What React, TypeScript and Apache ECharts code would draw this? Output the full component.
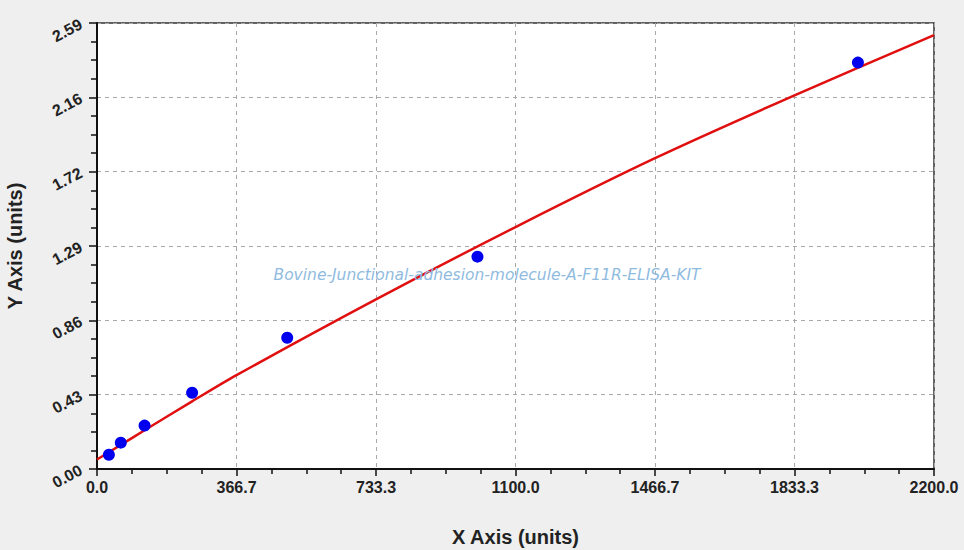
import { useEffect, useRef } from 'react'
import * as echarts from 'echarts'

// standard points (concentration, OD)
const standardX = [31.25, 62.5, 125, 250, 500, 1000, 2000]
const standardY = [0.083, 0.153, 0.252, 0.443, 0.762, 1.233, 2.36]

// fitted curve
const curveX = [0, 62.5, 125, 250, 366.7, 733.3, 1100, 1466.7, 1833.3, 2200]
const curveY = [0.055, 0.14, 0.225, 0.3925, 0.545, 0.985, 1.405, 1.805, 2.17, 2.52]

const xTicks = [0, 366.7, 733.3, 1100, 1466.7, 1833.3, 2200]
const yTicks = [0, 0.43, 0.86, 1.29, 1.72, 2.16, 2.59]

const chartTitle = 'Bovine-Junctional-adhesion-molecule-A-F11R-ELISA-KIT'

export default function App() {
  const chartRef = useRef<HTMLDivElement>(null)

  useEffect(() => {
    if (!chartRef.current) return
    const chart = echarts.init(chartRef.current, null, { renderer: 'svg' })

    const labelFont = {
      fontFamily: 'Arial, "Liberation Sans", sans-serif',
      fontWeight: 'bold' as const,
      fontSize: 16,
      color: '#222'
    }

    const option: echarts.EChartsOption = {
      animation: false,
      backgroundColor: '#efefef',
      grid: {
        left: 97,
        top: 23,
        right: 30,
        bottom: 81,
        show: true,
        backgroundColor: '#ffffff',
        borderColor: '#333',
        borderWidth: 1.5,
        outerBoundsMode: 'none'
      } as any,
      title: {
        text: chartTitle,
        left: 482,
        top: 262,
        textAlign: 'center',
        textStyle: {
          fontFamily: '"DejaVu Sans", sans-serif',
          fontStyle: 'italic',
          fontWeight: 'normal',
          fontSize: 15.5,
          color: '#8fbbe0'
        }
      },
      xAxis: {
        type: 'value',
        min: 0,
        max: 2200,
        interval: 2200 / 6,
        name: 'X Axis (units)',
        nameLocation: 'middle',
        nameGap: 58,
        nameTextStyle: { ...labelFont, fontSize: 20 },
        axisLine: { show: true, lineStyle: { color: '#111', width: 2 } },
        axisTick: { show: true, length: 7, lineStyle: { color: '#111', width: 1.5 } },
        minorTick: { show: true, splitNumber: 4, length: 5, lineStyle: { color: '#111', width: 1.5 } },
        axisLabel: {
          ...labelFont,
          margin: 10,
          formatter: (v: number) => {
            const t = xTicks.find(x => Math.abs(x - v) < 0.1)
            return t !== undefined ? t.toFixed(1) : ''
          }
        },
        splitLine: { show: true, lineStyle: { color: '#a8a8a8', type: [4, 4], width: 1 } }
      },
      yAxis: {
        type: 'value',
        min: 0,
        max: 2.59,
        interval: 2.59 / 6,
        name: 'Y Axis (units)',
        nameLocation: 'middle',
        nameGap: 72,
        nameRotate: 90,
        nameTextStyle: { ...labelFont, fontSize: 20 },
        axisLine: { show: true, lineStyle: { color: '#111', width: 2 } },
        axisTick: { show: true, length: 8, lineStyle: { color: '#111', width: 1.5 } },
        minorTick: { show: true, splitNumber: 4, length: 6, lineStyle: { color: '#111', width: 1.5 } },
        axisLabel: {
          ...labelFont,
          rotate: 28,
          margin: 16,
          formatter: (v: number) => {
            const t = yTicks.find(y => Math.abs(y - v) < 0.01)
            return t !== undefined ? t.toFixed(2) : ''
          }
        },
        splitLine: { show: true, lineStyle: { color: '#a8a8a8', type: [4, 4], width: 1 } }
      },
      series: [
        {
          name: 'Curve',
          type: 'line',
          data: curveX.map((x, i) => [x, curveY[i]]),
          smooth: 0.3,
          showSymbol: false,
          lineStyle: { color: '#e01010', width: 2.5 },
          z: 2
        },
        {
          name: 'Standards',
          type: 'scatter',
          data: standardX.map((x, i) => [x, standardY[i]]),
          symbol: 'circle',
          symbolSize: 12,
          itemStyle: { color: '#0000ee', opacity: 1 },
          z: 3
        }
      ]
    }

    chart.setOption(option)
    return () => {
      chart.dispose()
    }
  }, [])

  return (
    <div
      ref={chartRef}
      style={{ position: 'fixed', left: 0, top: 0, width: '964px', height: '550px' }}
    />
  )
}
